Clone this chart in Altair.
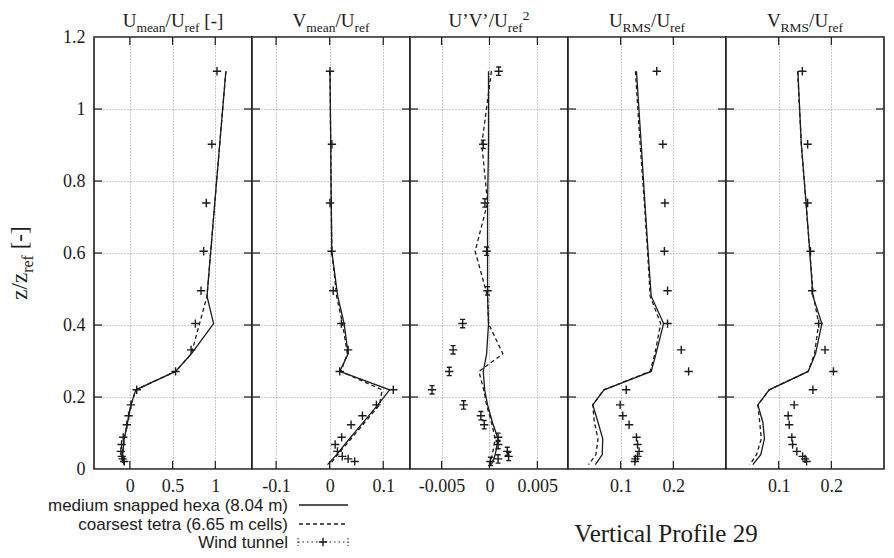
import altair as alt
import pandas as pd

# ---------------- data ----------------
Z_MODEL = [1.105, 0.902, 0.739, 0.605, 0.48, 0.404, 0.32, 0.271, 0.22, 0.178, 0.13, 0.084, 0.04, 0.012]
Z_WT = [1.105, 0.902, 0.739, 0.605, 0.495, 0.404, 0.331, 0.271, 0.22, 0.178, 0.148, 0.123,
        0.088, 0.068, 0.049, 0.035, 0.028, 0.021]

HEXA_UMEAN = [1.124, 1.052, 0.994, 0.947, 0.903, 0.98, 0.72, 0.535, 0.07, 0.012, -0.027, -0.066, -0.085, -0.066]
TETRA_UMEAN = [1.124, 1.052, 0.994, 0.947, 0.903, 0.816, 0.72, 0.535, 0.07, 0.012, -0.027, -0.066, -0.085, -0.066]
WT_UMEAN = [1.02, 0.96, 0.895, 0.864, 0.833, 0.767, 0.717, 0.535, 0.08, 0.012, -0.015, -0.035,
            -0.078, -0.097, -0.105, -0.093, -0.085, -0.066]

HEXA_VMEAN = [0.0006, 0.002, 0.003, 0.004, 0.015, 0.027, 0.0345, 0.0188, 0.112, 0.09, 0.063, 0.037, 0.013, -0.004]
TETRA_VMEAN = [0.0006, 0.002, 0.003, 0.004, 0.013, 0.024, 0.033, 0.021, 0.098, 0.093, 0.066, 0.04, 0.015, 0.0]
WT_VMEAN = [0.0006, 0.0042, 0.0006, 0.0036, 0.0067, 0.0218, 0.0345, 0.0188, 0.1188, 0.0873, 0.0612, 0.04,
            0.0224, 0.0103, 0.0145, 0.0236, 0.0345, 0.0467]

HEXA_UV = [-0.0001, -0.0001, -0.0002, -0.0002, -0.0002, -0.0001, -0.0003, -0.00065, -0.0005, -0.0002, 0.0003, 0.0009, 0.0006, 0.0002]
TETRA_UV = [0.0002, -0.0008, -0.0002, -0.0015, -0.0002, -0.0001, 0.0014, -0.0011, -0.0006, -0.0003, 0.0002, 0.0006, 0.0003, 0.0]
WT_UV = [0.00096, -0.00065, -0.00048, -0.0003, -0.0002, -0.0028, -0.0038, -0.0042, -0.006, -0.0027, -0.0009, -0.00055,
         0.0009, 0.0009, 0.00186, 0.002, 0.0009, 0.0001]

HEXA_URMS = [0.130, 0.139, 0.146, 0.152, 0.158, 0.1815, 0.167, 0.158, 0.0685, 0.047, 0.057, 0.066, 0.065, 0.052]
TETRA_URMS = [0.128, 0.137, 0.145, 0.151, 0.156, 0.176, 0.165, 0.156, 0.068, 0.047, 0.050, 0.057, 0.053, 0.039]
WT_URMS = [0.1685, 0.18, 0.184, 0.183, 0.189, 0.189, 0.215, 0.229, 0.1105, 0.099, 0.104, 0.116,
           0.130, 0.132, 0.135, 0.132, 0.128, 0.127]

HEXA_VRMS = [0.1365, 0.143, 0.152, 0.159, 0.165, 0.182, 0.17, 0.156, 0.082, 0.0605, 0.07, 0.073, 0.066, 0.051]
TETRA_VRMS = [0.136, 0.143, 0.152, 0.159, 0.166, 0.176, 0.168, 0.156, 0.082, 0.0605, 0.064, 0.067, 0.058, 0.045]
WT_VRMS = [0.145, 0.155, 0.155, 0.1605, 0.1635, 0.176, 0.188, 0.204, 0.165, 0.1295, 0.118, 0.12,
           0.125, 0.1265, 0.1345, 0.1455, 0.15, 0.153]

DOMAINS = [[-0.42, 1.43], [-0.145, 0.15], [-0.0083, 0.0082], [0, 0.3], [0, 0.3]]
XTICKS = [[0, 0.5, 1], [-0.1, 0, 0.1], [-0.005, 0, 0.005], [0.1, 0.2], [0.1, 0.2]]
YTICKS = [0, 0.2, 0.4, 0.6, 0.8, 1.0, 1.2]

TITLES = [
    [("U", "n"), ("mean", "sub"), ("/U", "n"), ("ref", "sub"), (" [-]", "n")],
    [("V", "n"), ("mean", "sub"), ("/U", "n"), ("ref", "sub")],
    [("U\u2019V\u2019/U", "n"), ("ref", "sub"), ("2", "sup")],
    [("U", "n"), ("RMS", "sub"), ("/U", "n"), ("ref", "sub")],
    [("V", "n"), ("RMS", "sub"), ("/U", "n"), ("ref", "sub")],
]
YTITLE = [("z/z", "n"), ("ref", "sub"), (" [-]", "n")]
LEGEND_LABELS = ["medium snapped hexa (8.04 m)", "coarsest tetra (6.65 m cells)", "Wind tunnel"]
NOTE = "Vertical Profile 29"

SERIES = [
    (HEXA_UMEAN, TETRA_UMEAN, WT_UMEAN),
    (HEXA_VMEAN, TETRA_VMEAN, WT_VMEAN),
    (HEXA_UV, TETRA_UV, WT_UV),
    (HEXA_URMS, TETRA_URMS, WT_URMS),
    (HEXA_VRMS, TETRA_VRMS, WT_VRMS),
]

# ---------------- styling ----------------
W, H = 158, 432
SERIF = "Liberation Serif"
SANS = "Liberation Sans"
INK = "#1c1c1c"
GRID = "#8c8c8c"
PLUS = "M-1,0L1,0M0,-1L0,1"
PLUS_CAPS = "M-1,0L1,0M0,-1L0,1M-0.6,-1L0.6,-1M-0.6,1L0.6,1"
ONE = pd.DataFrame({"k": [0]})

TIMES_W = {"U": .722, "V": .722, "m": .778, "e": .444, "a": .444, "n": .5, "/": .278, "r": .333,
           "f": .333, " ": .25, "[": .333, "-": .333, "]": .333, "\u2019": .333, "R": .667,
           "M": .889, "S": .556, "2": .5, "z": .444}
MAIN, SUB = 19, 13.5


def tw(s, size):
    return sum(TIMES_W.get(c, 0.5) for c in s) * size


def seg_size(kind, main, sub):
    return main if kind == "n" else sub


def title_layers(segs):
    total = sum(tw(t, seg_size(k, MAIN, SUB)) for t, k in segs)
    x = W / 2 - total / 2
    out = []
    for t, k in segs:
        size = seg_size(k, MAIN, SUB)
        lead = len(t) - len(t.lstrip(" "))
        shown = t.lstrip(" ")
        y = -10 if k == "n" else (-5 if k == "sub" else -17)
        out.append(alt.Chart(ONE).mark_text(text=shown, font=SERIF, fontSize=size, align="left",
                                            baseline="alphabetic", color=INK)
                   .encode(x=alt.value(x + tw(" " * lead, size)), y=alt.value(y)))
        x += tw(t, size)
    return out


def ytitle_layers():
    main, sub = 23, 16
    total = sum(tw(t, seg_size(k, main, sub)) for t, k in YTITLE)
    start = 226 + total / 2
    off = 0
    out = []
    for t, k in YTITLE:
        size = seg_size(k, main, sub)
        lead = len(t) - len(t.lstrip(" "))
        out.append(alt.Chart(ONE).mark_text(text=t.lstrip(" "), font=SERIF, fontSize=size, align="left",
                                            baseline="alphabetic", angle=270, color=INK,
                                            dx=off + tw(" " * lead, size), dy=(0 if k == "n" else 6))
                   .encode(x=alt.value(-67), y=alt.value(start)))
        off += tw(t, size)
    return out


def make_panel(i):
    hexa, tetra, wt = SERIES[i]
    first = i == 0
    xs = alt.Scale(domain=DOMAINS[i], nice=False, zero=False)
    ys = alt.Scale(domain=[0, 1.2], nice=False, zero=False)
    xaxis = alt.Axis(values=XTICKS[i], format="~g", labelExpr="replace(datum.label, '\u2212', '-')",
                     grid=True, gridDash=[1, 2], gridColor=GRID, gridWidth=0.9,
                     domain=False, ticks=False, labelFont=SERIF, labelFontSize=18, labelColor=INK,
                     labelPadding=8, title=None, labelFlush=False)
    yaxis = alt.Axis(values=YTICKS, format="~g", grid=True, gridDash=[1, 2], gridColor=GRID,
                     gridWidth=0.9, domain=False, ticks=False, labels=first, labelFont=SERIF,
                     labelFontSize=18, labelColor=INK, labelPadding=9, title=None, labelFlush=False)

    def mdf(vals):
        return pd.DataFrame({"z": Z_MODEL, "v": vals, "i": list(range(len(vals)))})

    X = alt.X("v:Q", scale=xs, axis=xaxis)
    Y = alt.Y("z:Q", scale=ys, axis=yaxis)

    solid = alt.Chart(mdf(hexa)).mark_line(color=INK, strokeWidth=1.3).encode(x=X, y=Y, order="i:Q")
    dashed = alt.Chart(mdf(tetra)).mark_line(color=INK, strokeWidth=1.3, strokeDash=[4, 3]).encode(
        x=X, y=Y, order="i:Q")
    wtdf = pd.DataFrame({"z": Z_WT, "v": wt})
    pts = alt.Chart(wtdf).mark_point(shape=PLUS_CAPS if i == 2 else PLUS, size=70, filled=False,
                                     stroke=INK, strokeWidth=1.4, opacity=1).encode(x=X, y=Y)

    xt = pd.DataFrame({"t": XTICKS[i]})
    yt = pd.DataFrame({"t": [0.2, 0.4, 0.6, 0.8, 1.0]})
    XT = alt.X("t:Q", scale=xs, axis=xaxis)
    YT = alt.Y("t:Q", scale=ys, axis=yaxis)
    tb = alt.Chart(xt).mark_rule(color=INK, strokeWidth=1.2).encode(x=XT, y=alt.value(H), y2=alt.value(H - 8))
    tt = alt.Chart(xt).mark_rule(color=INK, strokeWidth=1.2).encode(x=XT, y=alt.value(0), y2=alt.value(8))
    tl = alt.Chart(yt).mark_rule(color=INK, strokeWidth=1.2).encode(y=YT, x=alt.value(0), x2=alt.value(8))
    tr = alt.Chart(yt).mark_rule(color=INK, strokeWidth=1.2).encode(y=YT, x=alt.value(W), x2=alt.value(W - 8))

    layers = [tb, tt, tl, tr, solid, dashed, pts] + title_layers(TITLES[i])

    if first:
        layers += ytitle_layers()
        rows = [474, 493, 511]
        for lab, yy in zip(LEGEND_LABELS, rows):
            layers.append(alt.Chart(ONE).mark_text(text=lab, font=SANS, fontSize=17, align="right",
                                                   baseline="alphabetic", color=INK)
                          .encode(x=alt.value(194), y=alt.value(yy)))
        layers.append(alt.Chart(ONE).mark_rule(color=INK, strokeWidth=1.3)
                      .encode(x=alt.value(205), x2=alt.value(254), y=alt.value(rows[0] - 6)))
        layers.append(alt.Chart(ONE).mark_rule(color=INK, strokeWidth=1.3, strokeDash=[4, 3])
                      .encode(x=alt.value(205), x2=alt.value(254), y=alt.value(rows[1] - 6)))
        wy = rows[2] - 6
        layers.append(alt.Chart(ONE).mark_rule(color=INK, strokeWidth=1, strokeDash=[1.5, 3])
                      .encode(x=alt.value(204), x2=alt.value(254), y=alt.value(wy)))
        for cx in (204, 254):
            layers.append(alt.Chart(ONE).mark_rule(color=INK, strokeWidth=1, strokeDash=[1.5, 2])
                          .encode(x=alt.value(cx), y=alt.value(wy - 4), y2=alt.value(wy + 4)))
        layers.append(alt.Chart(ONE).mark_point(shape=PLUS, size=70, filled=False, stroke=INK,
                                                strokeWidth=1.4, opacity=1)
                      .encode(x=alt.value(229), y=alt.value(wy)))
    if i == 3:
        layers.append(alt.Chart(ONE).mark_text(text=NOTE, font=SERIF, fontSize=25, align="center",
                                               baseline="alphabetic", color=INK)
                      .encode(x=alt.value(98), y=alt.value(505)))

    return alt.layer(*layers).properties(
        width=W, height=H, view=alt.ViewBackground(stroke=INK, strokeWidth=1.6, fill="white"))


chart = alt.hconcat(*[make_panel(i) for i in range(5)], spacing=0, bounds="flush").properties(
    padding={"left": 0, "top": 0, "right": 0, "bottom": 0}, background="white"
).configure_view(stroke=INK, strokeWidth=1.6)

chart.save("out.html", embed_options={"renderer": "svg", "actions": False})
